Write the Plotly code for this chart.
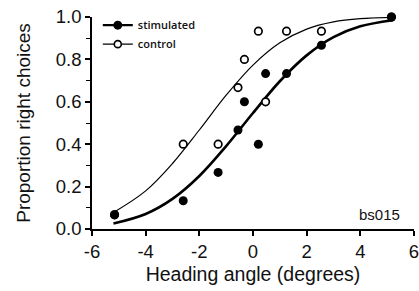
import plotly.graph_objects as go

# Data
angles = [-5.16, -2.6, -1.3, -0.56, -0.32, 0.2, 0.47, 1.25, 2.55, 5.16]
stimulated = [0.067, 0.133, 0.267, 0.467, 0.600, 0.400, 0.733, 0.733, 0.867, 1.000]
control = [0.067, 0.400, 0.400, 0.667, 0.800, 0.933, 0.600, 0.933, 0.933, 1.000]

# Fitted psychometric curves
curve_x = [-5.2, -4, -3, -2, -1, 0, 1, 2, 3, 4, 5.2]
stim_curve = [0.026, 0.071, 0.142, 0.250, 0.391, 0.547, 0.697, 0.819, 0.905, 0.956, 0.985]
ctrl_curve = [0.078, 0.180, 0.309, 0.467, 0.631, 0.773, 0.878, 0.943, 0.977, 0.992, 0.998]

x_ticks = [-6, -4, -2, 0, 2, 4, 6]
y_ticks = [0.0, 0.2, 0.4, 0.6, 0.8, 1.0]

FONT = "Liberation Sans, Arial, sans-serif"

fig = go.Figure()

# fitted curves
fig.add_trace(go.Scatter(x=curve_x, y=ctrl_curve, mode="lines", line=dict(color="black", width=1.2, shape="spline"),
                         showlegend=False, hoverinfo="skip"))
fig.add_trace(go.Scatter(x=curve_x, y=stim_curve, mode="lines", line=dict(color="black", width=2.6, shape="spline"),
                         showlegend=False, hoverinfo="skip"))

# data points
fig.add_trace(go.Scatter(x=angles, y=control, mode="markers", name="control",
                         marker=dict(symbol="circle", size=7.5, color="white", line=dict(color="black", width=1.7)),
                         showlegend=False, cliponaxis=False))
fig.add_trace(go.Scatter(x=angles, y=stimulated, mode="markers", name="stimulated",
                         marker=dict(symbol="circle", size=9, color="black", line=dict(color="black", width=0)),
                         showlegend=False, cliponaxis=False))

# legend entries
fig.add_trace(go.Scatter(x=[None], y=[None], mode="lines+markers", name="stimulated",
                         line=dict(color="black", width=2.2),
                         marker=dict(symbol="circle", size=9, color="black")))
fig.add_trace(go.Scatter(x=[None], y=[None], mode="lines+markers", name="control",
                         line=dict(color="black", width=1.2),
                         marker=dict(symbol="circle", size=7, color="white", line=dict(color="black", width=1.6))))

fig.update_layout(
    width=419, height=291,
    margin=dict(l=91.7, r=4.7, t=16.7, b=61.7, autoexpand=False),
    paper_bgcolor="white", plot_bgcolor="white",
    showlegend=True,
    legend=dict(x=0.018, y=1.03, xanchor="left", yanchor="top", bgcolor="rgba(0,0,0,0)",
                font=dict(family="Open Sans, sans-serif", size=11, color="#111", weight=600),
                itemwidth=30, tracegroupgap=0),
    font=dict(family=FONT, color="#111"),
    annotations=[dict(text="bs015", x=(402 - 91.7) / 322.6, y=0.068, xref="paper", yref="paper",
                      xanchor="right", yanchor="middle", showarrow=False,
                      font=dict(family=FONT, size=15, color="#111"))],
)

fig.update_xaxes(range=[-6, 6], tickvals=x_ticks, ticktext=[str(v) for v in x_ticks],
                 showgrid=False, zeroline=False, showline=True, linecolor="black", linewidth=1.5,
                 ticks="outside", ticklen=5, tickwidth=1.5, tickcolor="black",
                 ticklabeloverflow="allow",
                 tickfont=dict(family=FONT, size=18.5, color="#111"),
                 title=dict(text="Heading angle (degrees)", font=dict(family=FONT, size=19.5, color="#111"), standoff=6),
                 automargin=False)
fig.update_yaxes(range=[0, 1.0], tickvals=y_ticks, ticktext=[f"{v:.1f}" for v in y_ticks],
                 showgrid=False, zeroline=False, showline=True, linecolor="black", linewidth=1.5,
                 ticks="outside", ticklen=5, tickwidth=1.5, tickcolor="black",
                 ticklabeloverflow="allow",
                 minor=dict(dtick=0.1, tick0=0, ticks="outside", ticklen=4, tickwidth=1.2, tickcolor="black", showgrid=False),
                 tickfont=dict(family=FONT, size=18.5, color="#111"),
                 title=dict(text="Proportion right choices", font=dict(family=FONT, size=19, color="#111"), standoff=20),
                 automargin=False)

fig.write_html("out.html", config={"displayModeBar": False},
               post_script="document.body.style.margin='0px';document.body.style.overflow='hidden';")
